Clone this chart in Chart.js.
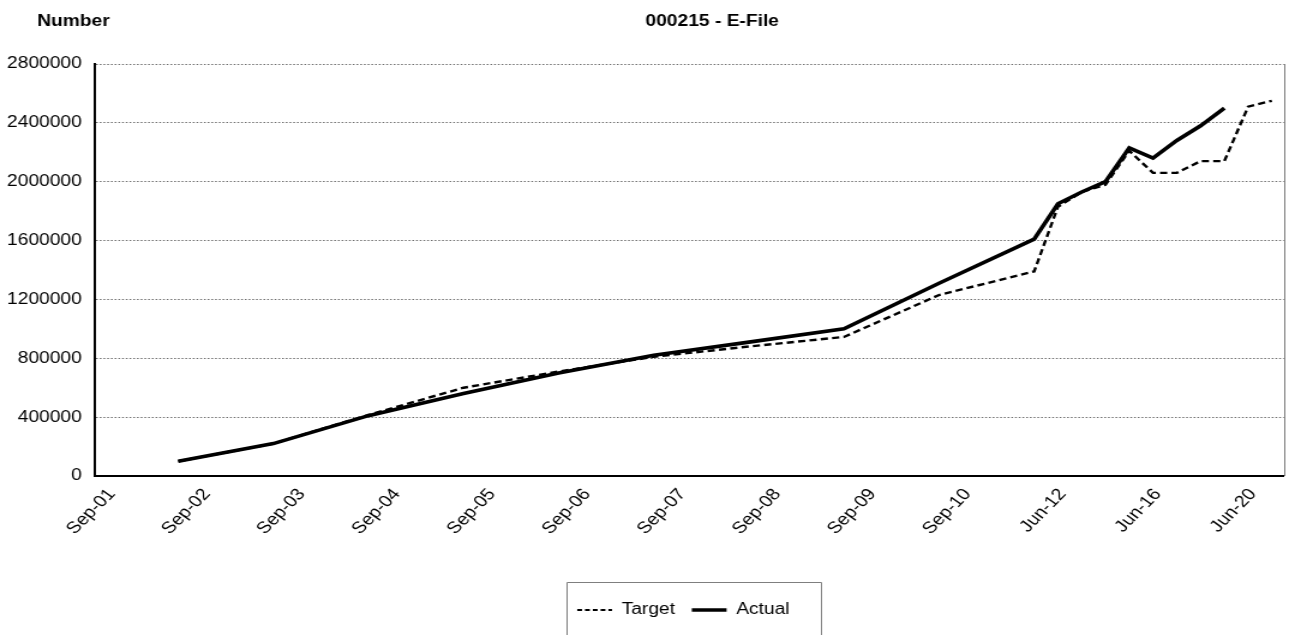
<!DOCTYPE html>
<html>
<head>
<meta charset="utf-8">
<script src="https://cdn.jsdelivr.net/npm/chart.js@4/dist/chart.umd.min.js"></script>
<style>
  html, body { margin: 0; padding: 0; background: #fff; overflow: hidden; }
  /* the chart is drawn on a narrower canvas and widened to the page width */
  #wrap { width: 1084px; height: 635px; transform: scaleX(1.20018); transform-origin: 0 0; }
  canvas { display: block; }
</style>
</head>
<body>
<div id="wrap"><canvas id="chart" width="1084" height="635"></canvas></div>
<script>
// Reporting periods: quarterly to Jun-11, yearly afterwards
const periods = [
  'Sep-01','Dec-01','Mar-02','Jun-02','Sep-02','Dec-02','Mar-03','Jun-03',
  'Sep-03','Dec-03','Mar-04','Jun-04','Sep-04','Dec-04','Mar-05','Jun-05',
  'Sep-05','Dec-05','Mar-06','Jun-06','Sep-06','Dec-06','Mar-07','Jun-07',
  'Sep-07','Dec-07','Mar-08','Jun-08','Sep-08','Dec-08','Mar-09','Jun-09',
  'Sep-09','Dec-09','Mar-10','Jun-10','Sep-10','Dec-10','Mar-11','Jun-11',
  'Jun-12','Jun-13','Jun-14','Jun-15','Jun-16','Jun-17','Jun-18','Jun-19',
  'Jun-20','Jun-21'
];
const labelEvery = 4;

// Year-end figures
const targetPeriods = ['Jun-02','Jun-03','Jun-04','Jun-05','Jun-06','Jun-07','Jun-08','Jun-09','Jun-10','Jun-11',
                       'Jun-12','Jun-13','Jun-14','Jun-15','Jun-16','Jun-17','Jun-18','Jun-19','Jun-20','Jun-21'];
const targetValues  = [100000, 220000, 415000, 600000, 710000, 810000, 880000, 945000, 1230000, 1390000,
                       1830000, 1930000, 1980000, 2210000, 2060000, 2060000, 2140000, 2140000, 2510000, 2550000];

const actualPeriods = ['Jun-02','Jun-03','Jun-04','Jun-05','Jun-06','Jun-07','Jun-08','Jun-09','Jun-10','Jun-11',
                       'Jun-12','Jun-13','Jun-14','Jun-15','Jun-16','Jun-17','Jun-18','Jun-19'];
const actualValues  = [100000, 220000, 410000, 560000, 700000, 820000, 910000, 1000000, 1310000, 1610000,
                       1850000, 1930000, 2000000, 2230000, 2160000, 2280000, 2380000, 2500000];

const yMin = 0, yMax = 2800000, yStep = 400000;

const chartTitle = '000215 - E-File';
const axisTitle = 'Number';

function alignToPeriods(keys, values) {
  return periods.map(p => {
    const i = keys.indexOf(p);
    return i >= 0 ? values[i] : null;
  });
}

const FONT = '"Liberation Sans", Arial, Helvetica, sans-serif';

// Titles above the plot
const headerPlugin = {
  id: 'header',
  afterDraw(chart) {
    const ctx = chart.ctx;
    const area = chart.chartArea;
    ctx.save();
    ctx.fillStyle = '#000';
    ctx.font = 'bold 16px ' + FONT;
    ctx.textBaseline = 'middle';
    ctx.textAlign = 'left';
    ctx.fillText(axisTitle, 31, 22);
    ctx.textAlign = 'center';
    ctx.fillText(chartTitle, area.left + (area.right - area.left) / 2 + 19, 22);
    ctx.restore();
  }
};

// Legend sits a little left of the plot centre
const legendShiftPlugin = {
  id: 'legendShift',
  afterLayout(chart) {
    const lg = chart.legend;
    if (!lg) return;
    lg.left -= 5;
    lg.right -= 5;
  }
};

// Right edge of the plot frame and the box round the legend
const framePlugin = {
  id: 'frame',
  beforeDatasetsDraw(chart) {
    const {ctx, chartArea} = chart;
    ctx.save();
    ctx.strokeStyle = '#7f7f7f';
    ctx.lineWidth = 1;
    ctx.beginPath();
    ctx.moveTo(Math.round(chartArea.right) + 0.5, chartArea.top);
    ctx.lineTo(Math.round(chartArea.right) + 0.5, chartArea.bottom);
    ctx.stroke();
    ctx.restore();
  },
  afterDraw(chart) {
    const lg = chart.legend;
    if (!lg || !lg.legendHitBoxes || !lg.legendHitBoxes.length) return;
    const hb = lg.legendHitBoxes;
    const last = hb[hb.length - 1];
    const left = Math.round(hb[0].left - 9) + 0.5;
    const right = Math.round(last.left + last.width + 26) + 0.5;
    const top = Math.round(hb[0].top + hb[0].height / 2 - 28) + 0.5;
    const ctx = chart.ctx;
    ctx.save();
    ctx.strokeStyle = '#7f7f7f';
    ctx.lineWidth = 1;
    ctx.beginPath();
    ctx.moveTo(left, chart.height + 2);
    ctx.lineTo(left, top);
    ctx.lineTo(right, top);
    ctx.lineTo(right, chart.height + 2);
    ctx.stroke();
    ctx.restore();
  }
};

Chart.defaults.font.family = FONT;
Chart.defaults.color = '#000';

const baseLabels = Chart.defaults.plugins.legend.labels.generateLabels;

new Chart(document.getElementById('chart'), {
  type: 'line',
  data: {
    labels: periods,
    datasets: [
      {
        label: 'Target',
        data: alignToPeriods(targetPeriods, targetValues),
        borderColor: '#000',
        backgroundColor: '#000',
        borderWidth: 2.4,
        borderDash: [6, 3.5],
        pointRadius: 0,
        pointHoverRadius: 0,
        tension: 0,
        spanGaps: true,
        fill: false,
        order: 1
      },
      {
        label: 'Actual',
        data: alignToPeriods(actualPeriods, actualValues),
        borderColor: '#000',
        backgroundColor: '#000',
        borderWidth: 3.6,
        pointRadius: 0,
        pointHoverRadius: 0,
        tension: 0,
        spanGaps: true,
        fill: false,
        order: 0
      }
    ]
  },
  options: {
    responsive: false,
    animation: false,
    devicePixelRatio: 1,
    layout: { padding: { top: 64, left: 0, right: 7.5, bottom: 7 } },
    plugins: {
      title: { display: false },
      tooltip: { enabled: false },
      legend: {
        position: 'bottom',
        fullSize: false,
        labels: {
          usePointStyle: true,
          pointStyle: 'line',
          pointStyleWidth: 29,
          padding: 14,
          color: '#000',
          font: { size: 16 },
          sort: (a, b) => a.datasetIndex - b.datasetIndex,
          generateLabels: chart => baseLabels(chart).map(item => {
            const ds = chart.data.datasets[item.datasetIndex];
            item.lineDash = ds.borderDash ? [4, 2.5] : [];
            item.lineWidth = ds.borderDash ? 2 : 3.6;
            item.lineCap = 'butt';
            item.pointStyle = 'line';
            return item;
          })
        }
      }
    },
    scales: {
      x: {
        type: 'category',
        offset: true,
        grid: { display: false, drawTicks: false },
        border: { display: true, color: '#000', width: 2 },
        ticks: {
          autoSkip: false,
          minRotation: 50,
          maxRotation: 50,
          padding: 9,
          labelOffset: 4,
          font: { size: 16.5 },
          color: '#000',
          callback: (v, i) => (i % labelEvery === 0 ? periods[i] : '')
        },
        afterFit: s => { s.height = 112; }
      },
      y: {
        min: yMin,
        max: yMax,
        ticks: {
          stepSize: yStep,
          padding: 11,
          font: { size: 16 },
          color: '#000',
          callback: v => String(v)
        },
        grid: {
          drawTicks: false,
          lineWidth: 1,
          color: ctx => (ctx.tick && ctx.tick.value === 0 ? 'rgba(0,0,0,0)' : '#6f6f6f')
        },
        border: { display: true, color: '#000', width: 2, dash: [1.5, 1.6] },
        afterFit: s => { s.width = 79.15; }
      }
    }
  },
  plugins: [headerPlugin, legendShiftPlugin, framePlugin]
});
</script>
</body>
</html>
